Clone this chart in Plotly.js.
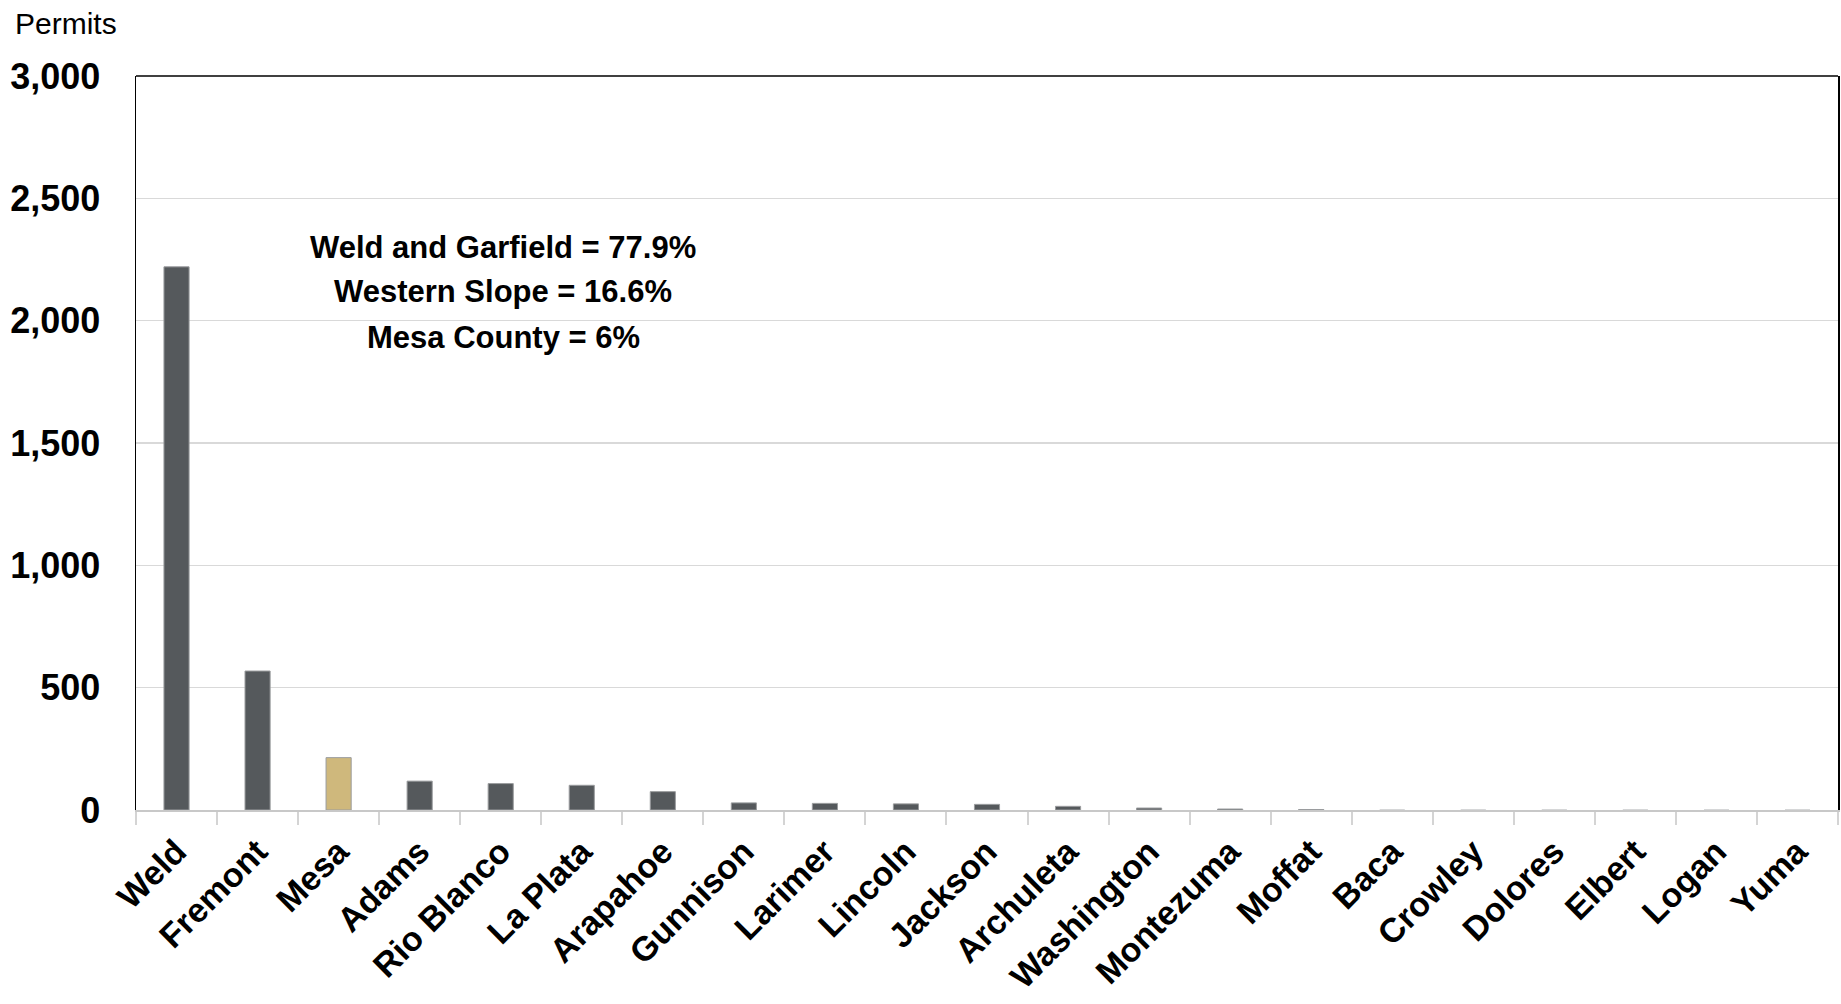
<!DOCTYPE html>
<html>
<head>
<meta charset="utf-8">
<script src="https://cdn.plot.ly/plotly-3.0.1.min.js"></script>
<style>html,body{margin:0;padding:0;background:#fff;}#chart{width:1841px;height:1004px;}</style>
</head>
<body>
<div id="chart"></div>
<script>
const counties = ["Weld","Fremont","Mesa","Adams","Rio Blanco","La Plata","Arapahoe","Gunnison","Larimer","Lincoln","Jackson","Archuleta","Washington","Montezuma","Moffat","Baca","Crowley","Dolores","Elbert","Logan","Yuma"];
const permits = [2220, 568, 214, 118, 108, 101, 75, 29, 27, 25, 23, 15, 8, 4, 2, 1, 1, 1, 1, 1, 1];
const highlight = "Mesa";
const annotationLines = ["Weld and Garfield = 77.9%", "Western Slope = 16.6%", "Mesa County = 6%"];
const yTickVals = [0, 500, 1000, 1500, 2000, 2500, 3000];
const yTickText = ["0", "500", "1,000", "1,500", "2,000", "2,500", "3,000"];

const narrow = "Liberation Sans Narrow, Arial Narrow, Liberation Sans, Arial, sans-serif";
const colors = counties.map(c => c === highlight ? "#CFB87C" : "#55595C");
const outlineWidths = permits.map(v => v >= 2 ? 1 : 0);

const trace = {
  type: "bar",
  x: counties,
  y: permits,
  marker: {color: colors, line: {color: "#9a9c9e", width: outlineWidths}},
  hoverinfo: "x+y"
};

const lineY = [0.766, 0.707, 0.644];
const textAnnotations = annotationLines.map((s, i) => ({
  xref: "paper", yref: "paper", x: 0.2157, y: lineY[i], xanchor: "center", yanchor: "middle",
  text: "<b>" + s + "</b>", showarrow: false,
  font: {family: narrow, size: 31, color: "#000"}
}));

const layout = {
  width: 1841, height: 1004,
  margin: {l: 136, r: 3, t: 76, b: 194},
  paper_bgcolor: "#ffffff", plot_bgcolor: "#ffffff",
  showlegend: false,
  bargap: 0.69,
  font: {family: narrow, color: "#000000"},
  xaxis: {
    type: "category",
    tickangle: -45,
    tickfont: {family: narrow, size: 34, weight: "bold", color: "#000"},
    showline: true, linecolor: "#c8c8c8", linewidth: 2,
    ticks: "outside", tickson: "boundaries", ticklen: 13, tickwidth: 2, tickcolor: "#d4d4d4",
    ticklabelstandoff: 6,
    showgrid: false
  },
  yaxis: {
    range: [0, 3000],
    tickvals: yTickVals, ticktext: yTickText,
    tickfont: {family: narrow, size: 36, weight: "bold", color: "#000"},
    showgrid: true, gridcolor: "#d9d9d9", gridwidth: 1.5,
    zeroline: false,
    showline: true, linecolor: "#000000", linewidth: 1.5, mirror: true,
    ticks: "", ticklabelstandoff: 27
  },
  shapes: [
    {type: "line", xref: "paper", yref: "paper", x0: 0, x1: 1, y0: 1, y1: 1, line: {color: "#000", width: 1.5}}
  ],
  annotations: textAnnotations.concat([
    {xref: "paper", yref: "paper", x: -0.0724, y: 1.097, xanchor: "left", yanchor: "top",
     text: "Permits", showarrow: false, font: {family: narrow, size: 30, color: "#000"}}
  ])
};

Plotly.newPlot("chart", [trace], layout, {displayModeBar: false, staticPlot: true});
</script>
</body>
</html>
